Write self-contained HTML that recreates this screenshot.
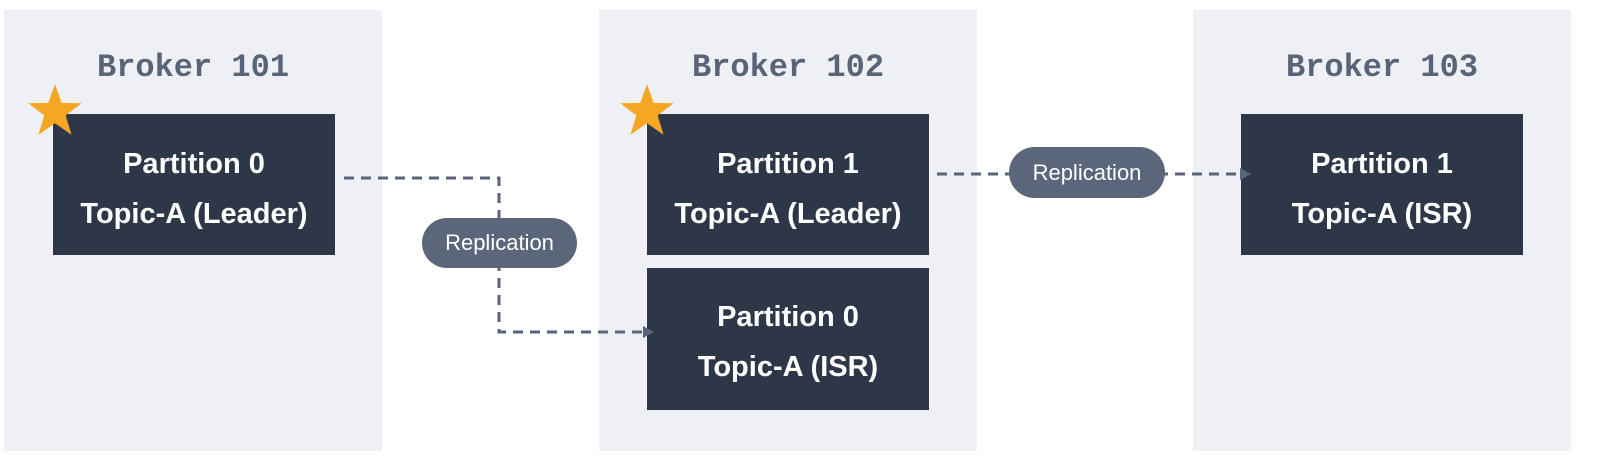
<!DOCTYPE html>
<html><head><meta charset="utf-8"><style>
html,body{margin:0;padding:0;background:#fff;}
body{width:1598px;height:458px;position:relative;overflow:hidden;}
.panel{position:absolute;background:#eff0f5;top:10px;height:441px;}
.title{position:absolute;top:39px;width:100%;text-align:center;font:bold 32px "Liberation Mono",monospace;color:#5a6478;}
.box{position:absolute;background:#2e3748;color:#fff;font:bold 29px "Liberation Sans",sans-serif;text-align:center;}
.box div{position:absolute;width:100%;}
svg{position:absolute;left:0;top:0;}
</style></head><body>
<div class="panel" style="left:4px;width:378px"><div class="title">Broker 101</div></div>
<div class="panel" style="left:599px;width:378px"><div class="title">Broker 102</div></div>
<div class="panel" style="left:1193px;width:378px"><div class="title">Broker 103</div></div>

<div class="box" style="left:53px;top:114px;width:282px;height:141px"><div style="top:34px">Partition 0</div><div style="top:84px">Topic-A (Leader)</div></div>
<div class="box" style="left:647px;top:114px;width:282px;height:141px"><div style="top:34px">Partition 1</div><div style="top:84px">Topic-A (Leader)</div></div>
<div class="box" style="left:647px;top:268px;width:282px;height:142px"><div style="top:33px">Partition 0</div><div style="top:83px">Topic-A (ISR)</div></div>
<div class="box" style="left:1241px;top:114px;width:282px;height:141px"><div style="top:34px">Partition 1</div><div style="top:84px">Topic-A (ISR)</div></div>

<svg width="1598" height="458">
<g fill="none" stroke="#5a6478" stroke-width="3" stroke-dasharray="10,7">
<polyline points="344,178 499,178 499,332 645,332"/>
<line x1="937" y1="174" x2="1243" y2="174"/>
</g>
<polygon points="643,326 654,332 643,338" fill="#5a6478"/>
<polygon points="1240,168 1251,174 1240,180" fill="#5a6478"/>
<rect x="422" y="218" width="155" height="50" rx="25" fill="#5b667a"/>
<text x="499.5" y="250" text-anchor="middle" font-family="Liberation Sans, sans-serif" font-size="22" fill="#fff">Replication</text>
<rect x="1009" y="147" width="156" height="51" rx="25.5" fill="#5b667a"/>
<text x="1087" y="180" text-anchor="middle" font-family="Liberation Sans, sans-serif" font-size="22" fill="#fff">Replication</text>
<g fill="#f5a623">
<polygon transform="translate(55,112)" points="0,-28 6.6,-9.1 26.6,-8.7 10.7,3.5 16.5,22.7 0,11.3 -16.5,22.7 -10.7,3.5 -26.6,-8.7 -6.6,-9.1"/>
<polygon transform="translate(647,112)" points="0,-28 6.6,-9.1 26.6,-8.7 10.7,3.5 16.5,22.7 0,11.3 -16.5,22.7 -10.7,3.5 -26.6,-8.7 -6.6,-9.1"/>
</g>
</svg>
</body></html>
